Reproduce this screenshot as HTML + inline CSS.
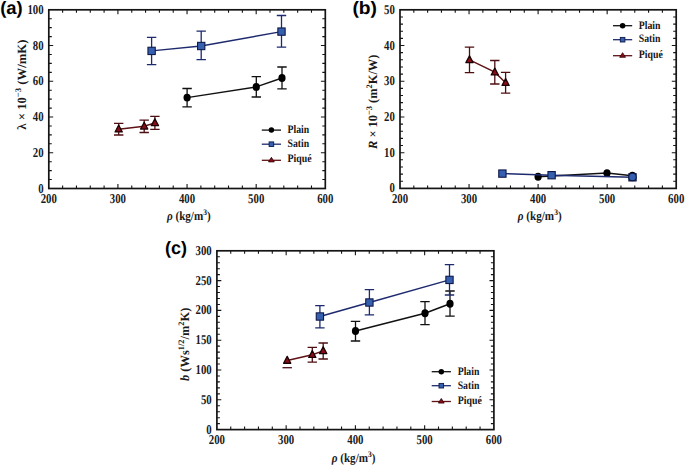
<!DOCTYPE html>
<html><head><meta charset="utf-8"><title>Figure</title>
<style>
html,body{margin:0;padding:0;background:#fff;}
body{width:685px;height:467px;overflow:hidden;}
svg{display:block;text-rendering:geometricPrecision;}
#w{width:685px;height:467px;}
.tl{font-family:"Liberation Serif", serif;font-size:13.5px;font-weight:bold;fill:#1a1a1a;}
.lg{font-family:"Liberation Serif", serif;font-size:11.4px;font-weight:bold;fill:#161616;}
.at{font-family:"Liberation Serif", serif;font-size:12.6px;font-weight:bold;fill:#1a1a1a;}
.pl{font-family:"Liberation Sans", sans-serif;font-size:18px;font-weight:bold;fill:#000;}
</style></head><body><div id="w">
<svg width="685" height="467" viewBox="0 0 685 467">
<rect width="685" height="467" fill="#fff"/>
<g>
<path d="M62.62 188.5v-3M62.62 9.8v3M76.45 188.5v-3M76.45 9.8v3M90.28 188.5v-3M90.28 9.8v3M104.1 188.5v-3M104.1 9.8v3M117.92 188.5v-4.4M117.92 9.8v4.4M131.75 188.5v-3M131.75 9.8v3M145.57 188.5v-3M145.57 9.8v3M159.4 188.5v-3M159.4 9.8v3M173.22 188.5v-3M173.22 9.8v3M187.05 188.5v-4.4M187.05 9.8v4.4M200.88 188.5v-3M200.88 9.8v3M214.7 188.5v-3M214.7 9.8v3M228.52 188.5v-3M228.52 9.8v3M242.35 188.5v-3M242.35 9.8v3M256.18 188.5v-4.4M256.18 9.8v4.4M270 188.5v-3M270 9.8v3M283.82 188.5v-3M283.82 9.8v3M297.65 188.5v-3M297.65 9.8v3M311.48 188.5v-3M311.48 9.8v3M48.8 179.56h3M325.3 179.56h-3M48.8 170.63h3M325.3 170.63h-3M48.8 161.69h3M325.3 161.69h-3M48.8 152.76h4.4M325.3 152.76h-4.4M48.8 143.82h3M325.3 143.82h-3M48.8 134.89h3M325.3 134.89h-3M48.8 125.96h3M325.3 125.96h-3M48.8 117.02h4.4M325.3 117.02h-4.4M48.8 108.09h3M325.3 108.09h-3M48.8 99.15h3M325.3 99.15h-3M48.8 90.22h3M325.3 90.22h-3M48.8 81.28h4.4M325.3 81.28h-4.4M48.8 72.34h3M325.3 72.34h-3M48.8 63.41h3M325.3 63.41h-3M48.8 54.48h3M325.3 54.48h-3M48.8 45.54h4.4M325.3 45.54h-4.4M48.8 36.61h3M325.3 36.61h-3M48.8 27.67h3M325.3 27.67h-3M48.8 18.74h3M325.3 18.74h-3" stroke="#141414" stroke-width="1.1" fill="none"/>
<rect x="48.8" y="9.8" width="276.5" height="178.7" fill="none" stroke="#141414" stroke-width="1.7"/>
<text x="48.8" y="203.3" text-anchor="middle" textLength="16.2" lengthAdjust="spacingAndGlyphs" class="tl">200</text>
<text x="117.92" y="203.3" text-anchor="middle" textLength="16.2" lengthAdjust="spacingAndGlyphs" class="tl">300</text>
<text x="187.05" y="203.3" text-anchor="middle" textLength="16.2" lengthAdjust="spacingAndGlyphs" class="tl">400</text>
<text x="256.18" y="203.3" text-anchor="middle" textLength="16.2" lengthAdjust="spacingAndGlyphs" class="tl">500</text>
<text x="325.3" y="203.3" text-anchor="middle" textLength="16.2" lengthAdjust="spacingAndGlyphs" class="tl">600</text>
<text x="43.6" y="192.5" text-anchor="end" textLength="5.4" lengthAdjust="spacingAndGlyphs" class="tl">0</text>
<text x="43.6" y="156.76" text-anchor="end" textLength="10.8" lengthAdjust="spacingAndGlyphs" class="tl">20</text>
<text x="43.6" y="121.02" text-anchor="end" textLength="10.8" lengthAdjust="spacingAndGlyphs" class="tl">40</text>
<text x="43.6" y="85.28" text-anchor="end" textLength="10.8" lengthAdjust="spacingAndGlyphs" class="tl">60</text>
<text x="43.6" y="49.54" text-anchor="end" textLength="10.8" lengthAdjust="spacingAndGlyphs" class="tl">80</text>
<text x="43.6" y="13.8" text-anchor="end" textLength="16.2" lengthAdjust="spacingAndGlyphs" class="tl">100</text>
<path d="M114 123.4H123.4M114 135H123.4M118.7 123.4V135" stroke="#4e0e12" stroke-width="1.3" fill="none"/>
<path d="M139.5 120.1H148.9M139.5 132.5H148.9M144.2 120.1V132.5" stroke="#4e0e12" stroke-width="1.3" fill="none"/>
<path d="M150.2 116.4H159.6M150.2 129.4H159.6M154.9 116.4V129.4" stroke="#4e0e12" stroke-width="1.3" fill="none"/>
<path d="M118.7 129.2 L144.2 126.3 L154.9 122.9" stroke="#5e1216" stroke-width="1.45" fill="none"/>
<path d="M118.7 125.1L122.3 131.94L115.1 131.94Z" fill="#8a0c16" stroke="#1a0204" stroke-width="1.3" stroke-linejoin="round"/>
<path d="M144.2 122.2L147.8 129.04L140.6 129.04Z" fill="#8a0c16" stroke="#1a0204" stroke-width="1.3" stroke-linejoin="round"/>
<path d="M154.9 118.8L158.5 125.64L151.3 125.64Z" fill="#8a0c16" stroke="#1a0204" stroke-width="1.3" stroke-linejoin="round"/>
<path d="M182.4 88.5H191.8M182.4 106.9H191.8M187.1 88.5V106.9" stroke="#111111" stroke-width="1.3" fill="none"/>
<path d="M251.6 76.7H261M251.6 97H261M256.3 76.7V97" stroke="#111111" stroke-width="1.3" fill="none"/>
<path d="M277.3 67H286.7M277.3 88.8H286.7M282 67V88.8" stroke="#111111" stroke-width="1.3" fill="none"/>
<path d="M187.1 97.6 L256.3 86.9 L282 78" stroke="#111111" stroke-width="1.45" fill="none"/>
<ellipse cx="187.1" cy="97.6" rx="3.6" ry="3.95" fill="#000"/>
<ellipse cx="256.3" cy="86.9" rx="3.6" ry="3.95" fill="#000"/>
<ellipse cx="282" cy="78" rx="3.6" ry="3.95" fill="#000"/>
<path d="M146.9 37.3H156.3M146.9 64.6H156.3M151.6 37.3V64.6" stroke="#1e2a6e" stroke-width="1.3" fill="none"/>
<path d="M196.5 31.1H205.9M196.5 59.6H205.9M201.2 31.1V59.6" stroke="#1e2a6e" stroke-width="1.3" fill="none"/>
<path d="M276.8 15.5H286.2M276.8 47.2H286.2M281.5 15.5V47.2" stroke="#1e2a6e" stroke-width="1.3" fill="none"/>
<path d="M151.6 50.9 L201.2 46 L281.5 31.6" stroke="#1e2a6e" stroke-width="1.45" fill="none"/>
<rect x="147.95" y="47.25" width="7.3" height="7.3" fill="#3560b0" stroke="#101a4a" stroke-width="1.1"/>
<rect x="197.55" y="42.35" width="7.3" height="7.3" fill="#3560b0" stroke="#101a4a" stroke-width="1.1"/>
<rect x="277.85" y="27.95" width="7.3" height="7.3" fill="#3560b0" stroke="#101a4a" stroke-width="1.1"/>
<path d="M261.8 130.1h19.2" stroke="#111111" stroke-width="1.3"/>
<circle cx="271.4" cy="130.1" r="2.75" fill="#000"/>
<text x="287.5" y="133.4" textLength="21.7" lengthAdjust="spacingAndGlyphs" class="lg">Plain</text>
<path d="M261.8 144.2h19.2" stroke="#1e2a6e" stroke-width="1.3"/>
<rect x="269.1" y="141.9" width="4.6" height="4.6" fill="#3560b0" stroke="#101a4a" stroke-width="0.9"/>
<text x="287.5" y="146.8" textLength="21.7" lengthAdjust="spacingAndGlyphs" class="lg">Satin</text>
<path d="M261.8 160.3h19.2" stroke="#5e1216" stroke-width="1.3"/>
<path d="M271.4 157.3l2.9 4.6h-5.8z" fill="#8a0c16" stroke="#2a0508" stroke-width="0.8"/>
<text x="287.5" y="162.3" textLength="24.1" lengthAdjust="spacingAndGlyphs" class="lg">Piqué</text>
<path d="M413.81 188.4v-3M413.81 9.8v3M427.62 188.4v-3M427.62 9.8v3M441.43 188.4v-3M441.43 9.8v3M455.24 188.4v-3M455.24 9.8v3M469.05 188.4v-4.4M469.05 9.8v4.4M482.86 188.4v-3M482.86 9.8v3M496.67 188.4v-3M496.67 9.8v3M510.48 188.4v-3M510.48 9.8v3M524.29 188.4v-3M524.29 9.8v3M538.1 188.4v-4.4M538.1 9.8v4.4M551.91 188.4v-3M551.91 9.8v3M565.72 188.4v-3M565.72 9.8v3M579.53 188.4v-3M579.53 9.8v3M593.34 188.4v-3M593.34 9.8v3M607.15 188.4v-4.4M607.15 9.8v4.4M620.96 188.4v-3M620.96 9.8v3M634.77 188.4v-3M634.77 9.8v3M648.58 188.4v-3M648.58 9.8v3M662.39 188.4v-3M662.39 9.8v3M400 181.26h3M676.2 181.26h-3M400 174.11h3M676.2 174.11h-3M400 166.97h3M676.2 166.97h-3M400 159.82h3M676.2 159.82h-3M400 152.68h4.4M676.2 152.68h-4.4M400 145.54h3M676.2 145.54h-3M400 138.39h3M676.2 138.39h-3M400 131.25h3M676.2 131.25h-3M400 124.1h3M676.2 124.1h-3M400 116.96h4.4M676.2 116.96h-4.4M400 109.82h3M676.2 109.82h-3M400 102.67h3M676.2 102.67h-3M400 95.53h3M676.2 95.53h-3M400 88.38h3M676.2 88.38h-3M400 81.24h4.4M676.2 81.24h-4.4M400 74.1h3M676.2 74.1h-3M400 66.95h3M676.2 66.95h-3M400 59.81h3M676.2 59.81h-3M400 52.66h3M676.2 52.66h-3M400 45.52h4.4M676.2 45.52h-4.4M400 38.38h3M676.2 38.38h-3M400 31.23h3M676.2 31.23h-3M400 24.09h3M676.2 24.09h-3M400 16.94h3M676.2 16.94h-3" stroke="#141414" stroke-width="1.1" fill="none"/>
<rect x="400" y="9.8" width="276.2" height="178.6" fill="none" stroke="#141414" stroke-width="1.7"/>
<text x="400" y="203.2" text-anchor="middle" textLength="16.2" lengthAdjust="spacingAndGlyphs" class="tl">200</text>
<text x="469.05" y="203.2" text-anchor="middle" textLength="16.2" lengthAdjust="spacingAndGlyphs" class="tl">300</text>
<text x="538.1" y="203.2" text-anchor="middle" textLength="16.2" lengthAdjust="spacingAndGlyphs" class="tl">400</text>
<text x="607.15" y="203.2" text-anchor="middle" textLength="16.2" lengthAdjust="spacingAndGlyphs" class="tl">500</text>
<text x="676.2" y="203.2" text-anchor="middle" textLength="16.2" lengthAdjust="spacingAndGlyphs" class="tl">600</text>
<text x="394.8" y="192.4" text-anchor="end" textLength="5.4" lengthAdjust="spacingAndGlyphs" class="tl">0</text>
<text x="394.8" y="156.68" text-anchor="end" textLength="10.8" lengthAdjust="spacingAndGlyphs" class="tl">10</text>
<text x="394.8" y="120.96" text-anchor="end" textLength="10.8" lengthAdjust="spacingAndGlyphs" class="tl">20</text>
<text x="394.8" y="85.24" text-anchor="end" textLength="10.8" lengthAdjust="spacingAndGlyphs" class="tl">30</text>
<text x="394.8" y="49.52" text-anchor="end" textLength="10.8" lengthAdjust="spacingAndGlyphs" class="tl">40</text>
<text x="394.8" y="13.8" text-anchor="end" textLength="10.8" lengthAdjust="spacingAndGlyphs" class="tl">50</text>
<path d="M464.8 47.2H474.2M464.8 72.6H474.2M469.5 47.2V72.6" stroke="#4e0e12" stroke-width="1.3" fill="none"/>
<path d="M490.1 60.5H499.5M490.1 84H499.5M494.8 60.5V84" stroke="#4e0e12" stroke-width="1.3" fill="none"/>
<path d="M500.9 72.3H510.3M500.9 93.1H510.3M505.6 72.3V93.1" stroke="#4e0e12" stroke-width="1.3" fill="none"/>
<path d="M469.5 59.9 L494.8 72.2 L505.6 82.7" stroke="#5e1216" stroke-width="1.45" fill="none"/>
<path d="M469.5 55.8L473.1 62.64L465.9 62.64Z" fill="#8a0c16" stroke="#1a0204" stroke-width="1.3" stroke-linejoin="round"/>
<path d="M494.8 68.1L498.4 74.94L491.2 74.94Z" fill="#8a0c16" stroke="#1a0204" stroke-width="1.3" stroke-linejoin="round"/>
<path d="M505.6 78.6L509.2 85.44L502 85.44Z" fill="#8a0c16" stroke="#1a0204" stroke-width="1.3" stroke-linejoin="round"/>
<path d="M538.1 176.8 L607 173.1 L632.4 175.8" stroke="#111111" stroke-width="1.45" fill="none"/>
<ellipse cx="538.1" cy="176.8" rx="3.6" ry="3.95" fill="#000"/>
<ellipse cx="607" cy="173.1" rx="3.6" ry="3.95" fill="#000"/>
<ellipse cx="632.4" cy="175.8" rx="3.6" ry="3.95" fill="#000"/>
<path d="M502.4 173.6 L551.6 175.2 L632.5 177.3" stroke="#1e2a6e" stroke-width="1.45" fill="none"/>
<rect x="498.75" y="169.95" width="7.3" height="7.3" fill="#3560b0" stroke="#101a4a" stroke-width="1.1"/>
<rect x="547.95" y="171.55" width="7.3" height="7.3" fill="#3560b0" stroke="#101a4a" stroke-width="1.1"/>
<rect x="628.85" y="173.65" width="7.3" height="7.3" fill="#3560b0" stroke="#101a4a" stroke-width="1.1"/>
<circle cx="632.5" cy="177.2" r="4.1" fill="#0d1540"/><circle cx="632.5" cy="177.0" r="3.2" fill="#3560b0"/>
<path d="M613 25.7h19.2" stroke="#111111" stroke-width="1.3"/>
<circle cx="622.6" cy="25.7" r="2.75" fill="#000"/>
<text x="638.8" y="29" textLength="21.7" lengthAdjust="spacingAndGlyphs" class="lg">Plain</text>
<path d="M613 39.7h19.2" stroke="#1e2a6e" stroke-width="1.3"/>
<rect x="620.3" y="37.4" width="4.6" height="4.6" fill="#3560b0" stroke="#101a4a" stroke-width="0.9"/>
<text x="638.8" y="42.4" textLength="21.7" lengthAdjust="spacingAndGlyphs" class="lg">Satin</text>
<path d="M613 55.7h19.2" stroke="#5e1216" stroke-width="1.3"/>
<path d="M622.6 52.7l2.9 4.6h-5.8z" fill="#8a0c16" stroke="#2a0508" stroke-width="0.8"/>
<text x="638.8" y="57.9" textLength="24.1" lengthAdjust="spacingAndGlyphs" class="lg">Piqué</text>
<path d="M230.75 429.6v-3M230.75 250.8v3M244.6 429.6v-3M244.6 250.8v3M258.45 429.6v-3M258.45 250.8v3M272.3 429.6v-3M272.3 250.8v3M286.15 429.6v-4.4M286.15 250.8v4.4M300 429.6v-3M300 250.8v3M313.85 429.6v-3M313.85 250.8v3M327.7 429.6v-3M327.7 250.8v3M341.55 429.6v-3M341.55 250.8v3M355.4 429.6v-4.4M355.4 250.8v4.4M369.25 429.6v-3M369.25 250.8v3M383.1 429.6v-3M383.1 250.8v3M396.95 429.6v-3M396.95 250.8v3M410.8 429.6v-3M410.8 250.8v3M424.65 429.6v-4.4M424.65 250.8v4.4M438.5 429.6v-3M438.5 250.8v3M452.35 429.6v-3M452.35 250.8v3M466.2 429.6v-3M466.2 250.8v3M480.05 429.6v-3M480.05 250.8v3M216.9 423.64h3M493.9 423.64h-3M216.9 417.68h3M493.9 417.68h-3M216.9 411.72h3M493.9 411.72h-3M216.9 405.76h3M493.9 405.76h-3M216.9 399.8h4.4M493.9 399.8h-4.4M216.9 393.84h3M493.9 393.84h-3M216.9 387.88h3M493.9 387.88h-3M216.9 381.92h3M493.9 381.92h-3M216.9 375.96h3M493.9 375.96h-3M216.9 370h4.4M493.9 370h-4.4M216.9 364.04h3M493.9 364.04h-3M216.9 358.08h3M493.9 358.08h-3M216.9 352.12h3M493.9 352.12h-3M216.9 346.16h3M493.9 346.16h-3M216.9 340.2h4.4M493.9 340.2h-4.4M216.9 334.24h3M493.9 334.24h-3M216.9 328.28h3M493.9 328.28h-3M216.9 322.32h3M493.9 322.32h-3M216.9 316.36h3M493.9 316.36h-3M216.9 310.4h4.4M493.9 310.4h-4.4M216.9 304.44h3M493.9 304.44h-3M216.9 298.48h3M493.9 298.48h-3M216.9 292.52h3M493.9 292.52h-3M216.9 286.56h3M493.9 286.56h-3M216.9 280.6h4.4M493.9 280.6h-4.4M216.9 274.64h3M493.9 274.64h-3M216.9 268.68h3M493.9 268.68h-3M216.9 262.72h3M493.9 262.72h-3M216.9 256.76h3M493.9 256.76h-3" stroke="#141414" stroke-width="1.1" fill="none"/>
<rect x="216.9" y="250.8" width="277" height="178.8" fill="none" stroke="#141414" stroke-width="1.7"/>
<text x="216.9" y="444.4" text-anchor="middle" textLength="16.2" lengthAdjust="spacingAndGlyphs" class="tl">200</text>
<text x="286.15" y="444.4" text-anchor="middle" textLength="16.2" lengthAdjust="spacingAndGlyphs" class="tl">300</text>
<text x="355.4" y="444.4" text-anchor="middle" textLength="16.2" lengthAdjust="spacingAndGlyphs" class="tl">400</text>
<text x="424.65" y="444.4" text-anchor="middle" textLength="16.2" lengthAdjust="spacingAndGlyphs" class="tl">500</text>
<text x="493.9" y="444.4" text-anchor="middle" textLength="16.2" lengthAdjust="spacingAndGlyphs" class="tl">600</text>
<text x="211.7" y="433.6" text-anchor="end" textLength="5.4" lengthAdjust="spacingAndGlyphs" class="tl">0</text>
<text x="211.7" y="403.8" text-anchor="end" textLength="10.8" lengthAdjust="spacingAndGlyphs" class="tl">50</text>
<text x="211.7" y="374" text-anchor="end" textLength="16.2" lengthAdjust="spacingAndGlyphs" class="tl">100</text>
<text x="211.7" y="344.2" text-anchor="end" textLength="16.2" lengthAdjust="spacingAndGlyphs" class="tl">150</text>
<text x="211.7" y="314.4" text-anchor="end" textLength="16.2" lengthAdjust="spacingAndGlyphs" class="tl">200</text>
<text x="211.7" y="284.6" text-anchor="end" textLength="16.2" lengthAdjust="spacingAndGlyphs" class="tl">250</text>
<text x="211.7" y="254.8" text-anchor="end" textLength="16.2" lengthAdjust="spacingAndGlyphs" class="tl">300</text>
<path d="M282.5 367.7H291.9M287.2 367.7V367.7" stroke="#4e0e12" stroke-width="1.3" fill="none"/>
<path d="M307.6 347.3H317M307.6 362.1H317M312.3 347.3V362.1" stroke="#4e0e12" stroke-width="1.3" fill="none"/>
<path d="M318.5 343H327.9M318.5 359H327.9M323.2 343V359" stroke="#4e0e12" stroke-width="1.3" fill="none"/>
<path d="M287.2 360.5 L312.3 354.7 L323.2 350.9" stroke="#5e1216" stroke-width="1.45" fill="none"/>
<path d="M287.2 356.4L290.8 363.24L283.6 363.24Z" fill="#8a0c16" stroke="#1a0204" stroke-width="1.3" stroke-linejoin="round"/>
<path d="M312.3 350.6L315.9 357.44L308.7 357.44Z" fill="#8a0c16" stroke="#1a0204" stroke-width="1.3" stroke-linejoin="round"/>
<path d="M323.2 346.8L326.8 353.64L319.6 353.64Z" fill="#8a0c16" stroke="#1a0204" stroke-width="1.3" stroke-linejoin="round"/>
<path d="M350.8 321.4H360.2M350.8 341H360.2M355.5 321.4V341" stroke="#111111" stroke-width="1.3" fill="none"/>
<path d="M420.3 301.6H429.7M420.3 324.7H429.7M425 301.6V324.7" stroke="#111111" stroke-width="1.3" fill="none"/>
<path d="M445.3 291H454.7M445.3 316.1H454.7M450 291V316.1" stroke="#111111" stroke-width="1.3" fill="none"/>
<path d="M355.5 331 L425 313.3 L450 303.7" stroke="#111111" stroke-width="1.45" fill="none"/>
<ellipse cx="355.5" cy="331" rx="3.6" ry="3.95" fill="#000"/>
<ellipse cx="425" cy="313.3" rx="3.6" ry="3.95" fill="#000"/>
<ellipse cx="450" cy="303.7" rx="3.6" ry="3.95" fill="#000"/>
<path d="M315.2 305.6H324.6M315.2 327.8H324.6M319.9 305.6V327.8" stroke="#1e2a6e" stroke-width="1.3" fill="none"/>
<path d="M364.7 289.7H374.1M364.7 314.9H374.1M369.4 289.7V314.9" stroke="#1e2a6e" stroke-width="1.3" fill="none"/>
<path d="M444.8 264.7H454.2M444.8 295H454.2M449.5 264.7V295" stroke="#1e2a6e" stroke-width="1.3" fill="none"/>
<path d="M319.9 316.5 L369.4 302.5 L449.5 279.9" stroke="#1e2a6e" stroke-width="1.45" fill="none"/>
<rect x="316.25" y="312.85" width="7.3" height="7.3" fill="#3560b0" stroke="#101a4a" stroke-width="1.1"/>
<rect x="365.75" y="298.85" width="7.3" height="7.3" fill="#3560b0" stroke="#101a4a" stroke-width="1.1"/>
<rect x="445.85" y="276.25" width="7.3" height="7.3" fill="#3560b0" stroke="#101a4a" stroke-width="1.1"/>
<path d="M431.7 371.7h19.2" stroke="#111111" stroke-width="1.3"/>
<circle cx="441.3" cy="371.7" r="2.75" fill="#000"/>
<text x="457.7" y="375.2" textLength="21.7" lengthAdjust="spacingAndGlyphs" class="lg">Plain</text>
<path d="M431.7 385.7h19.2" stroke="#1e2a6e" stroke-width="1.3"/>
<rect x="439" y="383.4" width="4.6" height="4.6" fill="#3560b0" stroke="#101a4a" stroke-width="0.9"/>
<text x="457.7" y="388.6" textLength="21.7" lengthAdjust="spacingAndGlyphs" class="lg">Satin</text>
<path d="M431.7 401.5h19.2" stroke="#5e1216" stroke-width="1.3"/>
<path d="M441.3 398.5l2.9 4.6h-5.8z" fill="#8a0c16" stroke="#2a0508" stroke-width="0.8"/>
<text x="457.7" y="404.1" textLength="24.1" lengthAdjust="spacingAndGlyphs" class="lg">Piqué</text>
<text x="0.2" y="13.5" textLength="22.5" lengthAdjust="spacingAndGlyphs" class="pl">(a)</text>
<text x="352.4" y="14.1" textLength="24.6" lengthAdjust="spacingAndGlyphs" class="pl">(b)</text>
<text x="165" y="254.2" textLength="22" lengthAdjust="spacingAndGlyphs" class="pl">(c)</text>
<text x="166.9" y="220.2" textLength="43.8" lengthAdjust="spacingAndGlyphs" class="at"><tspan font-style="italic">ρ</tspan> (kg/m<tspan dy="-5" font-size="8.5">3</tspan><tspan dy="5">)</tspan></text>
<text x="517.8" y="220.4" textLength="43.8" lengthAdjust="spacingAndGlyphs" class="at"><tspan font-style="italic">ρ</tspan> (kg/m<tspan dy="-5" font-size="8.5">3</tspan><tspan dy="5">)</tspan></text>
<text x="331.7" y="462.1" textLength="43.8" lengthAdjust="spacingAndGlyphs" class="at"><tspan font-style="italic">ρ</tspan> (kg/m<tspan dy="-5" font-size="8.5">3</tspan><tspan dy="5">)</tspan></text>
<text transform="translate(25.8 129.7) rotate(-90)" textLength="90.1" lengthAdjust="spacingAndGlyphs" class="at">λ × 10<tspan dy="-5" font-size="8.5">−3</tspan><tspan dy="5"> (W/mK)</tspan></text>
<text transform="translate(377.1 149.0) rotate(-90)" textLength="94.4" lengthAdjust="spacingAndGlyphs" class="at"><tspan font-style="italic">R</tspan> × 10<tspan dy="-5" font-size="8.5">−3</tspan><tspan dy="5"> (m</tspan><tspan dy="-5" font-size="8.5">2</tspan><tspan dy="5">K/W)</tspan></text>
<text transform="translate(188.8 381.0) rotate(-90)" textLength="73.4" lengthAdjust="spacingAndGlyphs" class="at"><tspan font-style="italic">b</tspan> (Ws<tspan dy="-5" font-size="8.5">1/2</tspan><tspan dy="5">/m</tspan><tspan dy="-5" font-size="8.5">2</tspan><tspan dy="5">K)</tspan></text>
</g>
</svg>
</div></body></html>
